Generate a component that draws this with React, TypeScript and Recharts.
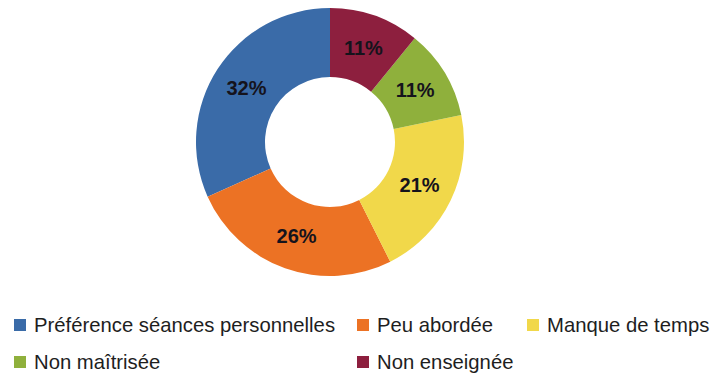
import { PieChart, Pie, Cell, Legend } from 'recharts';

const categories = [
  'Préférence séances personnelles',
  'Peu abordée',
  'Manque de temps',
  'Non maîtrisée',
  'Non enseignée',
];
const values = [32, 26, 21, 11, 11];
const colors = ['#3a6ba8', '#ec7224', '#f1d84a', '#8fb03c', '#8d1f3e'];

const data = categories.map((name, i) => ({ name, value: values[i] }));

const RADIAN = Math.PI / 180;

const renderLabel = (props: any) => {
  const { cx, cy, midAngle, innerRadius, outerRadius, value } = props;
  const r = (innerRadius + outerRadius) / 2;
  const x = cx + r * Math.cos(-midAngle * RADIAN);
  const y = cy + r * Math.sin(-midAngle * RADIAN);
  return (
    <text
      x={x}
      y={y}
      fill="#15131c"
      textAnchor="middle"
      dominantBaseline="central"
      fontSize={20}
      fontWeight="bold"
      fontFamily="Liberation Sans, Arial, sans-serif"
    >
      {`${value}%`}
    </text>
  );
};

// legend columns as in the picture: 3 per row
const colX = [6, 349, 519];
const rowY = [317, 354];

const renderLegend = () => (
  <div style={{ position: 'relative', width: 702, height: 66 }}>
    {categories.map((name, i) => {
      const row = Math.floor(i / 3);
      const col = i % 3;
      return (
        <div
          key={name}
          style={{
            position: 'absolute',
            left: colX[col],
            top: rowY[row] - 12 - 300,
            height: 24,
            display: 'flex',
            alignItems: 'center',
            whiteSpace: 'nowrap',
            fontFamily: 'Liberation Sans, Arial, sans-serif',
            fontSize: 20.3,
            color: '#1e1e1e',
          }}
        >
          <span
            style={{
              display: 'inline-block',
              width: 12,
              height: 12,
              background: colors[i],
              marginRight: 8,
            }}
          />
          {name}
        </div>
      );
    })}
  </div>
);

export default function App() {
  return (
    <PieChart width={702} height={366} margin={{ top: 0, right: 0, bottom: 0, left: 0 }}>
      <Pie
        data={data}
        dataKey="value"
        nameKey="name"
        cx={322}
        cy={134}
        innerRadius={65}
        outerRadius={134}
        startAngle={90}
        endAngle={450}
        stroke="none"
        labelLine={false}
        label={renderLabel}
        isAnimationActive={false}
      >
        {data.map((d, i) => (
          <Cell key={d.name} fill={colors[i]} />
        ))}
      </Pie>
      <Legend
        content={renderLegend}
        wrapperStyle={{ position: 'absolute', left: 0, top: 300, width: 702 }}
      />
    </PieChart>
  );
}
